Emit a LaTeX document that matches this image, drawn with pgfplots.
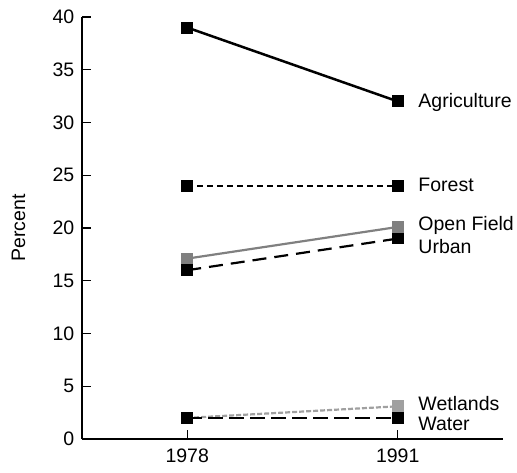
\documentclass[border=0pt]{standalone}
\usepackage{pgfplots}
\pgfplotsset{compat=1.18}
\usepackage{fontspec}
\setmainfont{Liberation Sans}
\definecolor{gA}{HTML}{808080}
\definecolor{gB}{HTML}{A0A0A0}
\begin{document}
\fontsize{19.5}{23}\selectfont
\begin{tikzpicture}
\useasboundingbox (-82pt,-33pt) rectangle (435pt,439pt);
\begin{axis}[
  scale only axis,
  width=421pt, height=422pt,
  xmin=1971.5, xmax=1997.5,
  ymin=0, ymax=40,
  axis x line*=bottom, axis y line*=left,
  axis line style={line width=1.3pt},
  xtick={1978,1991}, xticklabels={1978,1991},
  ytick={0,5,...,40},
  tick align=inside,
  major tick length=9pt,
  tick style={line width=1.3pt, black},
  ylabel={Percent},
  ylabel style={at={(axis description cs:0,0.5)}, anchor=south, yshift=50pt},
  /pgf/number format/assume math mode=true,
  tick label style={font=\fontsize{19.5}{23}\selectfont},
  label style={font=\fontsize{19.5}{23}\selectfont},
  yticklabel style={xshift=-1pt},
  xticklabel style={yshift=-3pt},
  clip=false,
  mark size=4.8pt,
]
% Agriculture
\addplot[black, line width=2.5pt, mark=square*, mark options={solid}] coordinates {(1978,39) (1991,32)};
% Forest
\addplot[black, line width=2pt, dash pattern=on 6pt off 4pt, mark=square*, mark options={solid}] coordinates {(1978,24) (1991,24)};
% Open Field
\addplot[gA, line width=2.2pt, mark=square*, mark options={solid}] coordinates {(1978,17.1) (1991,20.1)};
% Urban
\addplot[black, line width=2.2pt, dash pattern=on 14pt off 8pt, mark=square*, mark options={solid}] coordinates {(1978,16) (1991,19)};
% Wetlands
\addplot[gB, line width=2.2pt, dash pattern=on 5pt off 2pt, mark=square*, mark options={solid}] coordinates {(1978,2) (1991,3.1)};
% Water
\addplot[black, line width=2.2pt, dash pattern=on 15pt off 6pt, mark=square*, mark options={solid}] coordinates {(1978,2) (1991,2)};
\path (axis cs:1991,31.9) node[anchor=west, xshift=14pt] {Agriculture};
\path (axis cs:1991,24.1) node[anchor=west, xshift=14pt] {Forest};
\path (axis cs:1991,20.2) node[anchor=west, xshift=14pt] {Open Field};
\path (axis cs:1991,18.2) node[anchor=west, xshift=14pt] {Urban};
\path (axis cs:1991,3.4) node[anchor=west, xshift=14pt] {Wetlands};
\path (axis cs:1991,1.4) node[anchor=west, xshift=14pt] {Water};
\end{axis}
\end{tikzpicture}
\end{document}
